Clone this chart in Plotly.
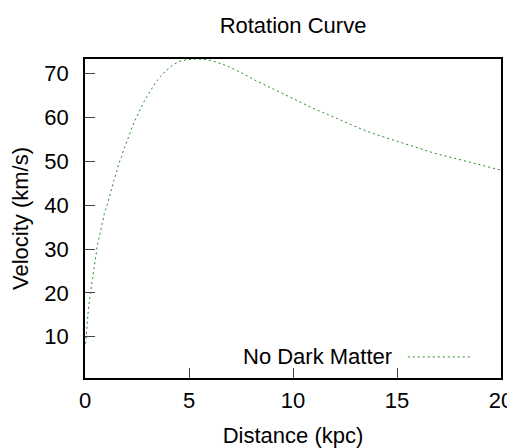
import plotly.graph_objects as go

# values
distance_kpc = [0.03, 0.06, 0.08, 0.16, 0.26, 0.37, 0.48, 0.61, 0.76, 0.93, 1.09, 1.19,
                1.30, 1.39, 1.52, 1.63, 1.76, 1.88, 2.02, 2.15, 2.29, 2.45, 2.61, 2.79,
                2.98, 3.17, 3.38, 3.62, 3.89, 4.20, 4.53, 4.89, 5.30, 5.69, 6.09, 6.81,
                7.53, 8.22, 8.93, 9.62, 10.34, 11.06, 11.78, 12.5, 13.22, 13.94, 14.66,
                15.38, 16.11, 16.91, 17.68, 18.43, 19.15, 19.92, 20.0]
velocity_kms = [8.4, 10.8, 12.3, 16.1, 19.9, 23.7, 27.5, 31.3, 34.3, 38.1, 40.4, 42.3,
                44.1, 45.7, 47.6, 49.6, 51.1, 53.0, 54.6, 56.4, 58.1, 59.8, 61.5, 63.2,
                64.8, 66.3, 67.9, 69.3, 70.7, 71.9, 72.8, 73.2, 73.35, 73.3, 73.0, 71.8,
                70.2, 68.4, 66.8, 65.2, 63.5, 61.9, 60.5, 59.0, 57.5, 56.2, 55.1,
                53.9, 52.8, 51.7, 50.8, 49.9, 49.1, 48.1, 48.0]
x_ticks = [0, 5, 10, 15, 20]
y_ticks = [10, 20, 30, 40, 50, 60, 70]

line_color = "#228b22"
font_family = "Liberation Sans, Arial, sans-serif"
font_size = 22

# the page body has an 8px margin, so the figure is drawn 8px smaller
fig_w, fig_h = 507, 440

fig = go.Figure()
fig.add_trace(go.Scatter(
    x=distance_kpc,
    y=velocity_kms,
    mode="lines",
    name="No Dark Matter",
    line=dict(color=line_color, width=1, dash="2px,3px"),
    showlegend=False,
))

# gnuplot-style key: text on the left, sample line on the right
fig.add_annotation(
    text="No Dark Matter", xref="paper", yref="paper",
    x=0.743, y=0.066, xanchor="right", yanchor="middle",
    showarrow=False, font=dict(size=font_size, color="black"),
)
fig.add_shape(
    type="line", xref="paper", yref="paper",
    x0=0.776, x1=0.925, y0=0.066, y1=0.066,
    line=dict(color=line_color, width=1, dash="2px,3px"),
)

fig.update_layout(
    width=fig_w,
    height=fig_h,
    margin=dict(l=77, r=14, t=51, b=70),
    paper_bgcolor="white",
    plot_bgcolor="white",
    font=dict(family=font_family, size=font_size, color="black"),
    title=dict(text="Rotation Curve", x=0.5, xref="paper", y=1 - 17 / fig_h,
               yref="container", xanchor="center", yanchor="middle",
               font=dict(size=font_size)),
)
fig.update_xaxes(
    range=[0, 20], tickvals=x_ticks, ticks="inside", ticklen=10, tickwidth=1,
    tickcolor="#444", showline=True, linecolor="black", linewidth=1.5, mirror=True,
    showgrid=False, zeroline=False, ticklabelstandoff=2, automargin=False,
    title=dict(text="Distance (kpc)", standoff=25, font=dict(size=font_size)),
)
fig.update_yaxes(
    range=[0.58, 73.35], tickvals=y_ticks, ticks="inside", ticklen=10, tickwidth=1,
    tickcolor="#444", showline=True, linecolor="black", linewidth=1.5, mirror=True,
    showgrid=False, zeroline=False, ticklabelstandoff=10, automargin=False,
    title=dict(text="Velocity (km/s)", standoff=18, font=dict(size=font_size)),
)

fig.write_html("out.html")
